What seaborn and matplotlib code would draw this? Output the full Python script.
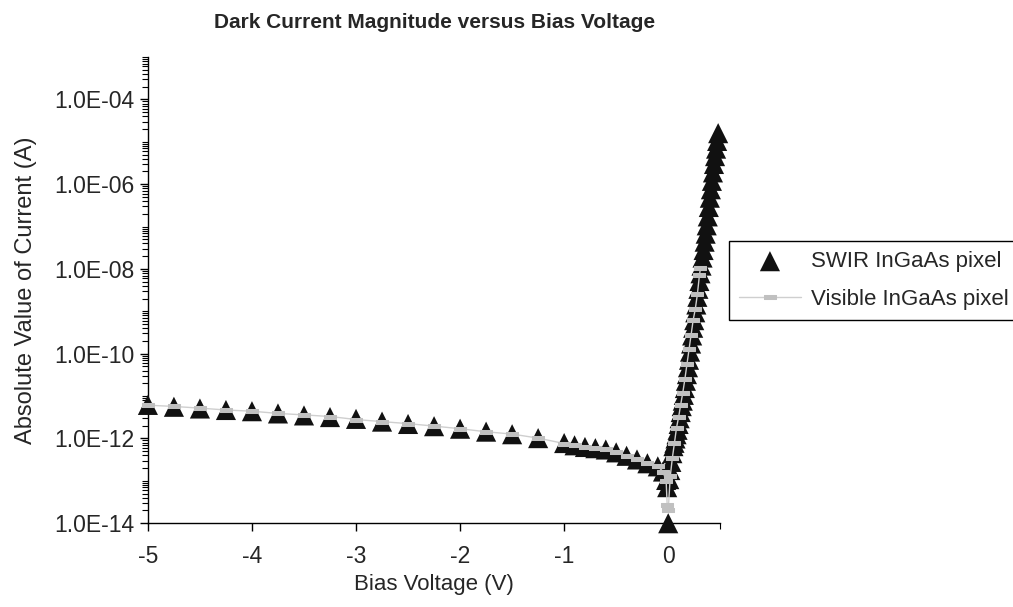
import matplotlib
matplotlib.use("Agg")
import matplotlib.pyplot as plt
import matplotlib.ticker as mticker
import numpy as np
import pandas as pd
import seaborn as sns

sns.set_style("white")
plt.rcParams['font.family'] = ['Liberation Sans', 'DejaVu Sans']

# SWIR InGaAs pixel: bias voltage (V) and |current| (A)
swir_v = [-5.0, -4.75, -4.5, -4.25, -4.0, -3.75, -3.5, -3.25, -3.0, -2.75, -2.5, -2.25,
          -2.0, -1.75, -1.5, -1.25, -1.0, -0.9, -0.8, -0.7, -0.6, -0.5, -0.4, -0.3, -0.2,
          -0.1, -0.05, -0.02, -0.01, 0.0,
          0.01, 0.02, 0.03, 0.04, 0.05, 0.06, 0.07, 0.08, 0.09, 0.10, 0.11, 0.12, 0.13,
          0.14, 0.15, 0.16, 0.17, 0.18, 0.19, 0.20, 0.21, 0.22, 0.23, 0.24, 0.25, 0.26,
          0.27, 0.28, 0.29, 0.30, 0.31, 0.32, 0.33, 0.34, 0.35, 0.36, 0.37, 0.38, 0.39,
          0.40, 0.41, 0.42, 0.43, 0.44, 0.45, 0.46, 0.47, 0.48]
swir_i = [6.2e-12, 5.6e-12, 5.1e-12, 4.7e-12, 4.4e-12, 3.9e-12, 3.5e-12, 3.2e-12, 2.9e-12,
          2.5e-12, 2.2e-12, 1.95e-12, 1.7e-12, 1.45e-12, 1.26e-12, 1.02e-12, 7.8e-13,
          6.9e-13, 6.3e-13, 5.9e-13, 5.5e-13, 4.7e-13, 3.9e-13, 3.2e-13, 2.6e-13, 2.2e-13,
          1.66e-13, 1.05e-13, 7.1e-14, 1.0e-14,
          1.1e-13, 1.8e-13, 2.8e-13, 4.5e-13, 6.6e-13, 7.9e-13, 1.0e-12, 1.26e-12, 1.6e-12,
          2.2e-12, 3.0e-12, 4.2e-12, 5.8e-12, 7.8e-12, 1.07e-11, 1.55e-11, 2.3e-11, 3.3e-11,
          4.8e-11, 7.2e-11, 1.12e-10, 1.74e-10, 2.7e-10, 4.1e-10, 6.2e-10, 9.5e-10, 1.45e-9,
          2.2e-9, 3.4e-9, 5.2e-9, 7.9e-9, 1.2e-8, 1.86e-8, 2.8e-8, 4.4e-8, 6.8e-8, 1.07e-7,
          1.74e-7, 2.9e-7, 4.8e-7, 7.6e-7, 1.2e-6, 1.9e-6, 3.0e-6, 4.6e-6, 6.9e-6, 1.05e-5,
          1.6e-5]

# Visible InGaAs pixel
vis_v = [-5.0, -4.75, -4.5, -4.25, -4.0, -3.75, -3.5, -3.25, -3.0, -2.75, -2.5, -2.25,
         -2.0, -1.75, -1.5, -1.25, -1.0, -0.9, -0.8, -0.7, -0.6, -0.5, -0.4, -0.3, -0.2,
         -0.1, -0.05, -0.02, -0.01, 0.0,
         0.02, 0.04, 0.06, 0.08, 0.10, 0.12, 0.14, 0.16, 0.18, 0.20, 0.22, 0.24, 0.26,
         0.28, 0.30, 0.31]
vis_i = [6.1e-12, 5.7e-12, 5.2e-12, 4.7e-12, 4.4e-12, 3.9e-12, 3.6e-12, 3.3e-12, 2.8e-12,
         2.5e-12, 2.24e-12, 1.96e-12, 1.7e-12, 1.44e-12, 1.27e-12, 1.02e-12, 7.6e-13,
         6.9e-13, 6.3e-13, 5.9e-13, 5.5e-13, 4.7e-13, 3.9e-13, 3.2e-13, 2.6e-13, 2.2e-13,
         1.66e-13, 1.0e-13, 2.7e-14, 2.0e-14,
         1.3e-13, 3.5e-13, 7.9e-13, 1.8e-12, 3.2e-12, 6.3e-12, 1.2e-11, 2.5e-11, 5.6e-11,
         1.26e-10, 2.8e-10, 6.3e-10, 1.12e-9, 2.5e-9, 7.1e-9, 1.05e-8]

decades = [1e-14, 1e-12, 1e-10, 1e-8, 1e-6, 1e-4]
x_ticks = [-5, -4, -3, -2, -1, 0]

swir = pd.DataFrame({'V': swir_v, 'I': swir_i})
vis = pd.DataFrame({'V': vis_v, 'I': vis_i})

fig = plt.figure(figsize=(10.13, 6.07), dpi=100)
ax = fig.add_axes([0.146, 0.138, 0.565, 0.768])

sns.scatterplot(data=swir, x='V', y='I', marker='^', s=210, color='#111111',
                edgecolor='none', ax=ax, label='SWIR InGaAs pixel', clip_on=False, zorder=3)
rect = [(-1, -0.42), (1, -0.42), (1, 0.42), (-1, 0.42), (-1, -0.42)]
sns.lineplot(data=vis, x='V', y='I', estimator=None, sort=False, color='#CFCFCF',
             linewidth=1.0, marker=rect, markersize=8, markerfacecolor='#C0C0C0',
             markeredgecolor='#C0C0C0', ax=ax, label='Visible InGaAs pixel',
             clip_on=False, zorder=4)

ax.set_yscale('log')
ax.set_ylim(1e-14, 1e-3)
ax.set_xlim(-5, 0.5)
ax.yaxis.set_major_locator(mticker.FixedLocator(decades))
ax.yaxis.set_minor_locator(mticker.LogLocator(base=10, subs=np.arange(1, 10), numticks=40))
ax.yaxis.set_minor_formatter(mticker.NullFormatter())
ax.yaxis.set_major_formatter(mticker.FuncFormatter(lambda v, p: f"{v:.1E}"))
ax.set_xticks(x_ticks)
ax.set_xticklabels([str(t) for t in x_ticks])
ax.set_xticks([0.5], minor=True)

ax.tick_params(axis='both', which='major', direction='out', length=6, width=1,
               color='black', labelsize=16.5, left=True, bottom=True, pad=4)
ax.tick_params(axis='x', which='major', pad=10)
ax.tick_params(axis='both', which='minor', direction='out', length=4, width=0.8,
               color='black', left=True, bottom=True)

for s in ['top', 'right']:
    ax.spines[s].set_visible(False)
for s in ['left', 'bottom']:
    ax.spines[s].set_color('black')
    ax.spines[s].set_linewidth(1)

ax.set_xlabel('Bias Voltage (V)', fontsize=16, labelpad=4)
ax.set_ylabel('Absolute Value of Current (A)', fontsize=17, labelpad=12)
ax.set_title('Dark Current Magnitude versus Bias Voltage', fontsize=15,
             fontweight='bold', pad=21)

leg = ax.legend(loc='center left', bbox_to_anchor=(1.015, 0.521), fontsize=16,
                frameon=True, fancybox=False, edgecolor='black', framealpha=1,
                borderpad=0.45, handlelength=2.8, handletextpad=0.45, labelspacing=0.75,
                borderaxespad=0)
leg.get_frame().set_linewidth(1)

fig.savefig('out.png', dpi=100)
